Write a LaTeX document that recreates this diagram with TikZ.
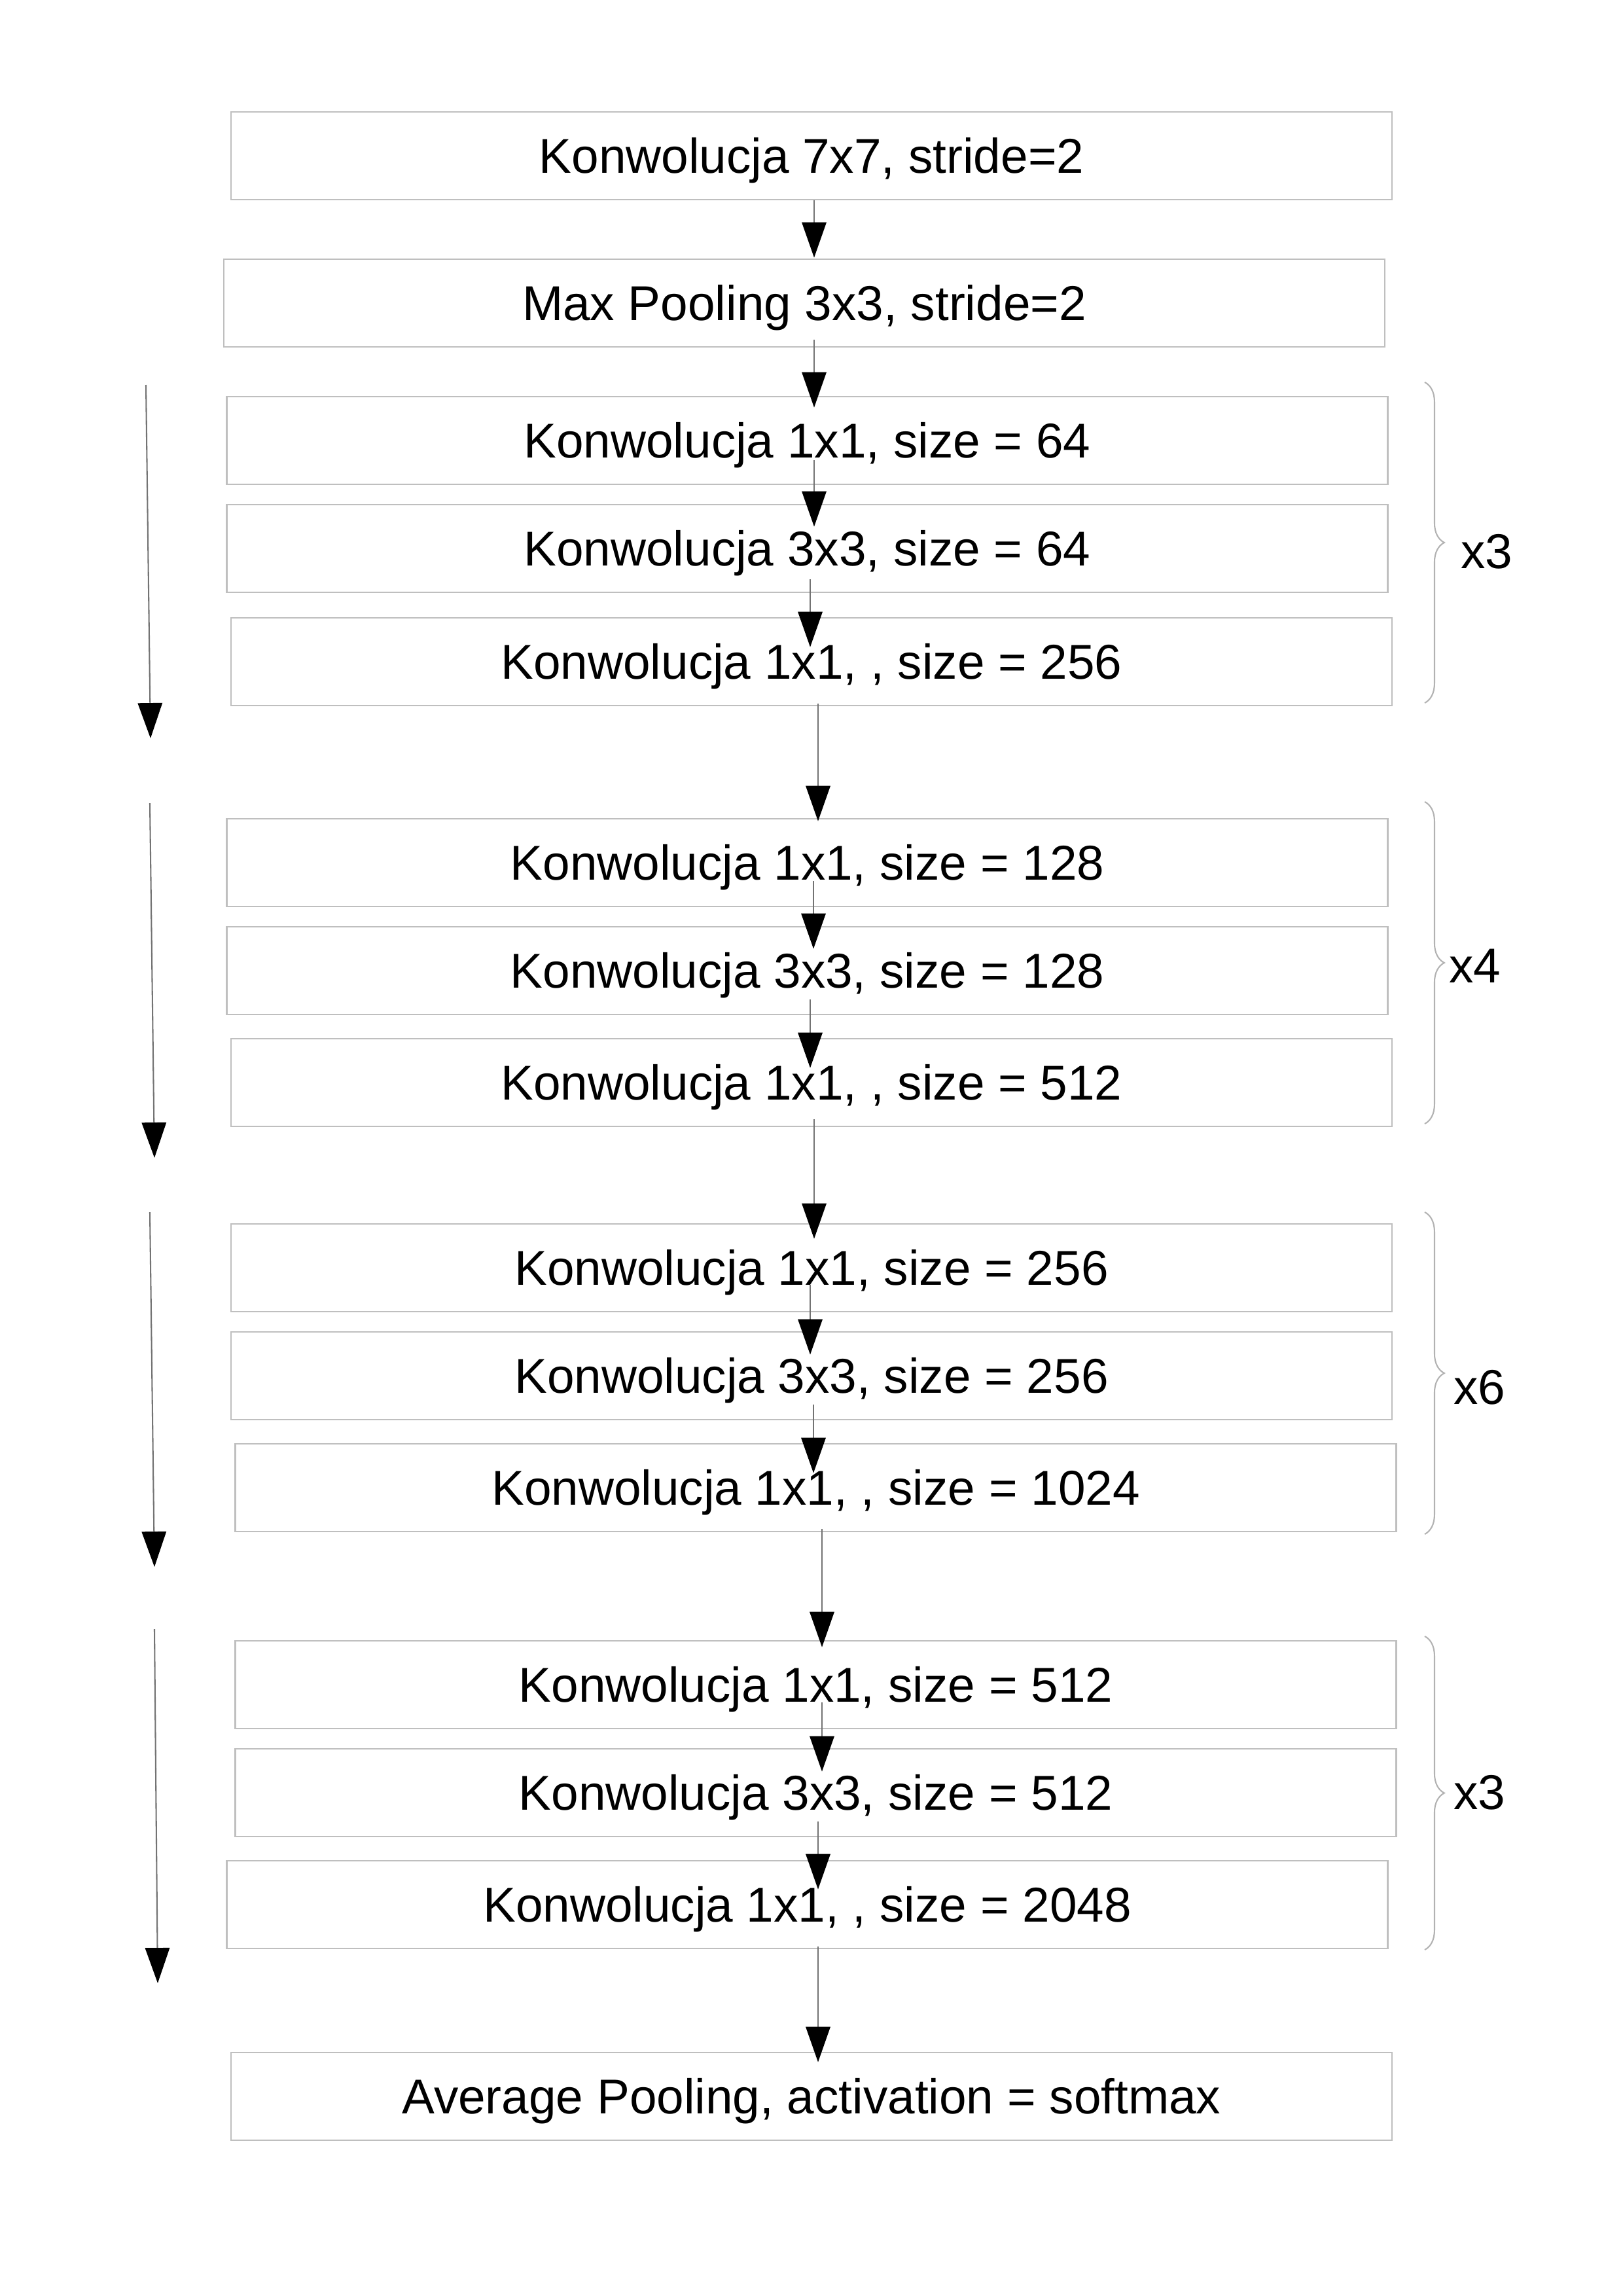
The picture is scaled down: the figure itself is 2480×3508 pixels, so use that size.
\documentclass[tikz,border=0pt]{standalone}
\usepackage{fontspec}
\setmainfont{Liberation Sans}
\usetikzlibrary{arrows.meta,calc,decorations.pathreplacing}

\begin{document}
\begin{tikzpicture}[x=0.08467mm,y=-0.08467mm]

\fontsize{18pt}{22pt}\selectfont
\tikzset{
  layer/.style={draw=black!25, line width=0.5pt, minimum width=150.2mm,
    minimum height=11.4mm, inner sep=0pt, text height=12.9pt, text depth=0pt},
  flow/.style={draw=black!55, line width=0.5pt,
    -{Triangle[width=9pt,length=13pt,color=black]}},
  bracket/.style={draw=black!30, line width=0.5pt, decorate,
    decoration={brace,amplitude=7.2pt}},
}
\useasboundingbox (0,0) rectangle (2480,3508);

% wejscie
\node[layer] (b1) at (1240,238) {Konwolucja 7x7, stride=2};
\node[layer] (b2) at (1229,463) {Max Pooling 3x3, stride=2};
% blok 1
\node[layer] (b3) at (1233.5,673) {Konwolucja 1x1, size = 64};
\node[layer] (b4) at (1233.5,838) {Konwolucja 3x3, size = 64};
\node[layer] (b5) at (1240,1011) {Konwolucja 1x1, , size = 256};
% blok 2
\node[layer] (b6) at (1233.5,1318) {Konwolucja 1x1, size = 128};
\node[layer] (b7) at (1233.5,1483) {Konwolucja 3x3, size = 128};
\node[layer] (b8) at (1240,1654) {Konwolucja 1x1, , size = 512};
% blok 3
\node[layer] (b9) at (1240,1937) {Konwolucja 1x1, size = 256};
\node[layer] (b10) at (1240,2102) {Konwolucja 3x3, size = 256};
\node[layer] (b11) at (1246.5,2273) {Konwolucja 1x1, , size = 1024};
% blok 4
\node[layer] (b12) at (1246.5,2574) {Konwolucja 1x1, size = 512};
\node[layer] (b13) at (1246.5,2739) {Konwolucja 3x3, size = 512};
\node[layer] (b14) at (1233.5,2910) {Konwolucja 1x1, , size = 2048};
% wyjscie
\node[layer] (b15) at (1240,3203) {Average Pooling, activation = softmax};

% przeplyw
\draw[flow] ($(b1.south)+(4,0)$) -- ($(b2.north)+(15,-1)$);
\draw[flow] ($(b2.south)+(15,-12)$) -- ($(b3.north)+(10.5,18)$);
\draw[flow] ($(b3.south)+(10.5,-38)$) -- ($(b4.north)+(10.5,35)$);
\draw[flow] ($(b4.south)+(4.5,-21)$) -- ($(b5.north)+(-2,46)$);
\draw[flow] ($(b5.south)+(10,-4)$) -- ($(b6.north)+(16.5,5)$);
\draw[flow] ($(b6.south)+(9.5,-40)$) -- ($(b7.north)+(9.5,35)$);
\draw[flow] ($(b7.south)+(4.5,-24)$) -- ($(b8.north)+(-2,46)$);
\draw[flow] ($(b8.south)+(4,-12)$) -- ($(b9.north)+(4,24)$);
\draw[flow] ($(b9.south)+(-2,-42)$) -- ($(b10.north)+(-2,36)$);
\draw[flow] ($(b10.south)+(3,-24)$) -- ($(b11.north)+(-3.5,46)$);
\draw[flow] ($(b11.south)+(9.5,-5)$) -- ($(b12.north)+(9.5,11)$);
\draw[flow] ($(b12.south)+(9.5,-41)$) -- ($(b13.north)+(9.5,36)$);
\draw[flow] ($(b13.south)+(3.5,-24)$) -- ($(b14.north)+(16.5,45)$);
\draw[flow] ($(b14.south)+(16.5,-4)$) -- ($(b15.north)+(10,16)$);

% polaczenia skrotowe
\coordinate (s1) at (223,588);  \coordinate (e1) at (230,1128);
\coordinate (s2) at (229,1227); \coordinate (e2) at (236,1769);
\coordinate (s3) at (229,1852); \coordinate (e3) at (236,2394);
\coordinate (s4) at (236,2489); \coordinate (e4) at (241,3030);
\draw[flow] (s1) -- (e1);
\draw[flow] (s2) -- (e2);
\draw[flow] (s3) -- (e3);
\draw[flow] (s4) -- (e4);

% powtorzenia
\draw[bracket] (2177,584) -- (2177,1074);
\draw[bracket] (2177,1225) -- (2177,1717);
\draw[bracket] (2177,1852) -- (2177,2344);
\draw[bracket] (2177,2500) -- (2177,2979);
\node (r1) at (2272,843) {x3};
\node (r2) at (2254,1476) {x4};
\node (r3) at (2261,2120) {x6};
\node (r4) at (2261,2739) {x3};
\end{tikzpicture}
\end{document}
